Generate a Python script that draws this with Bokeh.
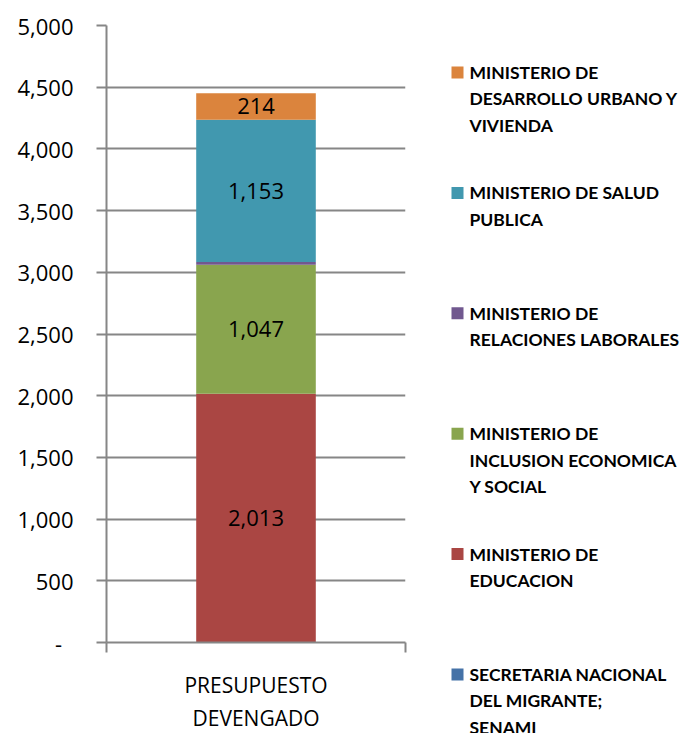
from bokeh.plotting import figure
from bokeh.layouts import row, column
from bokeh.models import Range1d, FixedTicker, ColumnDataSource
from bokeh.core.properties import value
from bokeh.embed import file_html
from bokeh.resources import INLINE

# ---- data (stack order, bottom to top) ----
series = ["SECRETARIA NACIONAL DEL MIGRANTE; SENAMI",
          "MINISTERIO DE EDUCACION",
          "MINISTERIO DE INCLUSION ECONOMICA Y SOCIAL",
          "MINISTERIO DE RELACIONES LABORALES",
          "MINISTERIO DE SALUD PUBLICA",
          "MINISTERIO DE DESARROLLO URBANO Y VIVIENDA"]
legend_lines = [["SECRETARIA NACIONAL", "DEL MIGRANTE;", "SENAMI"],
                ["MINISTERIO DE", "EDUCACION"],
                ["MINISTERIO DE", "INCLUSION ECONOMICA", "Y SOCIAL"],
                ["MINISTERIO DE", "RELACIONES LABORALES"],
                ["MINISTERIO DE SALUD", "PUBLICA"],
                ["MINISTERIO DE", "DESARROLLO URBANO Y", "VIVIENDA"]]
values = [2, 2013, 1047, 22, 1153, 214]
shown_labels = [False, True, True, False, True, True]
colors = ["#4572A7", "#AA4643", "#89A54E", "#71588F", "#4198AF", "#DB843D"]
category = ["PRESUPUESTO\nDEVENGADO"]
y_ticks = [0, 500, 1000, 1500, 2000, 2500, 3000, 3500, 4000, 4500, 5000]

GRID = "#868686"
FONT = "Open Sans"

keys = ["s%d" % i for i in range(len(values))]
src = ColumnDataSource({"x": [0.5], **{k: [v] for k, v in zip(keys, values)}})

p = figure(width=440, height=733, output_backend="svg", toolbar_location=None,
           x_range=Range1d(0, 1), y_range=Range1d(0, 5000),
           min_border_left=106, min_border_top=25, min_border_right=35,
           min_border_bottom=91)
p.frame_width = 299
p.frame_height = 617
p.outline_line_color = None
p.background_fill_color = "white"

p.vbar_stack(keys, x="x", width=0.4, color=colors, line_color=None, source=src)

# labels inside segments
lx, ly, lt = [], [], []
cum = 0
for v, show in zip(values, shown_labels):
    if show:
        lx.append(0.5)
        ly.append(cum + v / 2)
        lt.append(f"{v:,}")
    cum += v
p.text(x=lx, y=ly, text=lt, text_align="center", text_baseline="middle",
       text_font=value(FONT), text_font_size="22px", text_color="#000000")

# y axis
yax = p.yaxis[0]
yax.ticker = FixedTicker(ticks=y_ticks)
yax.major_label_overrides = {t: (f"{t:,}" if t else "-\u00a0\u00a0") for t in y_ticks}
yax.axis_line_color = GRID
yax.axis_line_width = 2
yax.major_tick_line_color = GRID
yax.major_tick_line_width = 2
yax.major_tick_in = 0
yax.major_tick_out = 10
yax.minor_tick_line_color = None
yax.major_label_standoff = 23
yax.major_label_text_font = FONT
yax.major_label_text_font_size = "22px"
yax.major_label_text_color = "#000000"

# x axis
xax = p.xaxis[0]
xax.ticker = FixedTicker(ticks=[0.5], minor_ticks=[0, 1])
xax.major_label_overrides = {0.5: category[0]}
xax.axis_line_color = GRID
xax.axis_line_width = 2
xax.major_tick_line_color = None
xax.major_tick_in = 0
xax.major_tick_out = 0
xax.minor_tick_line_color = GRID
xax.minor_tick_line_width = 2
xax.minor_tick_in = 0
xax.minor_tick_out = 10
xax.major_label_standoff = 18
xax.major_label_text_font = FONT
xax.major_label_text_font_size = "21px"
xax.major_label_text_color = "#000000"

p.xgrid.visible = False
p.ygrid.ticker = FixedTicker(ticks=y_ticks)
p.ygrid.grid_line_color = GRID
p.ygrid.grid_line_width = 2

# ---- legend panel: ranges in page pixels, y downward ----
lg = figure(width=244, height=733, output_backend="svg", toolbar_location=None,
            x_range=Range1d(440, 684), y_range=Range1d(733, 0),
            min_border=0)
lg.frame_width = 244
lg.frame_height = 733
lg.axis.visible = False
lg.grid.visible = False
lg.outline_line_color = None

n = len(series)
sq_x, sq_y, sq_c, tx, ty, tt = [], [], [], [], [], []
for rank, i in enumerate(reversed(range(n))):
    y0 = 72 + rank * 120.4
    sq_x.append(457)
    sq_y.append(y0)
    sq_c.append(colors[i])
    for k, line in enumerate(legend_lines[i]):
        tx.append(469)
        ty.append(y0 + k * 26.3)
        tt.append(line)
lg.rect(x=sq_x, y=sq_y, width=12, height=12, color=sq_c, line_color=None)
lg.text(x=tx, y=ty, text=tt, text_align="left", text_baseline="middle",
        text_font=value("Lato"), text_font_style="bold",
        text_font_size="17.5px", text_color="#000000")

layout = row(p, column(lg))
open("out.html", "w").write(file_html(layout, INLINE))
